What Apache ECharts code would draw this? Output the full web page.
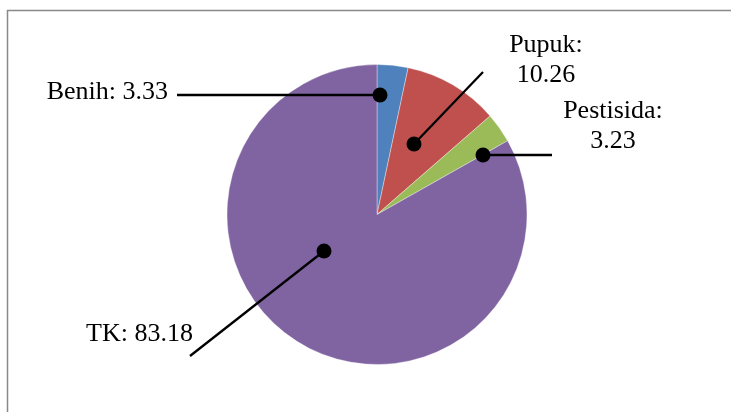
<!DOCTYPE html>
<html><head><meta charset="utf-8">
<script src="https://cdn.jsdelivr.net/npm/echarts@6/dist/echarts.min.js"></script>
<style>html,body{margin:0;padding:0;background:#fff}#c{width:731px;height:412px}</style>
</head><body><div id="c"></div>
<script>
const categories = ['Benih', 'Pupuk', 'Pestisida', 'TK'];
const values = [3.33, 10.26, 3.23, 83.18];
const colors = ['#4F81BD', '#C0504D', '#9BBB59', '#8064A2'];
const labelBreak = [false, true, true, false];
// annotation layout (leader dot, leader end, label anchor)
const labelLayouts = [
  { dot: [380, 95], end: [177, 95], x: 168, y: 92, align: 'right' },
  { dot: [414, 144], end: [483, 72], x: 546, y: 60, align: 'center' },
  { dot: [483, 155], end: [552, 155], x: 613, y: 126, align: 'center' },
  { dot: [324, 251], end: [190, 356], x: 193, y: 334, align: 'right' }
];

const chart = echarts.init(document.getElementById('c'), null, { renderer: 'canvas' });
const data = categories.map((name, i) => ({ name, value: values[i], itemStyle: { color: colors[i] } }));

const graphics = [
  { type: 'rect', shape: { x: 7.5, y: 10.5, width: 760, height: 420 }, style: { fill: 'none', stroke: '#898989', lineWidth: 1.5 }, silent: true, z: 0 }
];
labelLayouts.forEach(l => {
  graphics.push({ type: 'polyline', shape: { points: [l.dot, l.end] }, style: { stroke: '#000', lineWidth: 2.3, fill: 'none' }, silent: true, z: 99 });
  graphics.push({ type: 'circle', shape: { cx: l.dot[0], cy: l.dot[1], r: 7.5 }, style: { fill: '#000' }, silent: true, z: 100 });
});

chart.setOption({
  animation: false,
  backgroundColor: '#fff',
  graphic: graphics,
  series: [{
    type: 'pie',
    center: [377, 214.5],
    radius: 150,
    startAngle: 90,
    clockwise: true,
    data: data,
    itemStyle: { borderColor: 'rgba(255,255,255,0.6)', borderWidth: 0.6 },
    label: {
      show: true,
      position: 'outside',
      fontFamily: 'Liberation Serif',
      fontSize: 26,
      lineHeight: 30,
      color: '#000',
      formatter: p => p.name + ':' + (labelBreak[p.dataIndex] ? '\n' : ' ') + p.value.toFixed(2)
    },
    labelLine: { show: false },
    labelLayout: function (params) {
      const l = labelLayouts[params.dataIndex];
      return { x: l.x, y: l.y, align: l.align, verticalAlign: 'middle' };
    }
  }]
});
</script></body></html>
